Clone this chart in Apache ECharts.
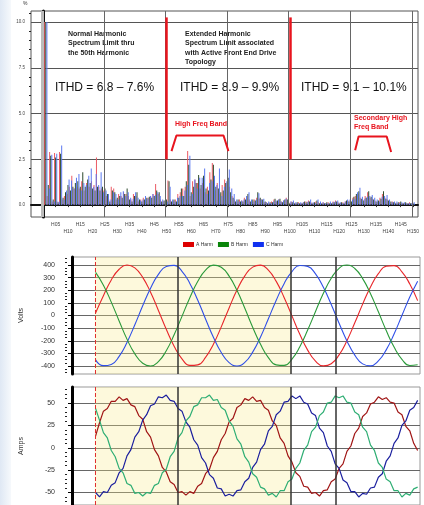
<!DOCTYPE html>
<html>
<head>
<meta charset="utf-8">
<script src="https://cdn.jsdelivr.net/npm/echarts@6/dist/echarts.min.js"></script>
<style>
  html, body { margin: 0; padding: 0; background: #fff; }
  #chart { width: 424px; height: 505px; }
</style>
</head>
<body>
<div id="chart"></div>
<script>
// harmonic spectrum, % of fundamental, index 0 = H1 (fundamental clipped at 10)
const harmA = [
  10, 0.5, 2.9, 0.2, 2.85, 0.2, 2.9, 0.3, 0.5, 0.6,
  1.0, 1.6, 0.9, 1.0, 0.9, 1.3, 0.8, 1.2, 1.0, 1.3,
  1.1, 2.6, 1.0, 0.9, 0.8, 0.5, 0.3, 1.0, 0.9, 0.3,
  0.6, 0.5, 0.7, 0.6, 0.5, 0.3, 0.6, 0.5, 0.2, 0.3,
  0.4, 0.3, 0.4, 0.5, 0.6, 1.15, 0.6, 0.3, 0.2, 0.2,
  1.35, 0.3, 0.2, 0.3, 0.6, 0.7, 0.9, 1.0, 2.95, 0.5,
  1.3, 1.4, 1.2, 0.9, 1.2, 0.7, 1.0, 1.8, 2.3, 0.8,
  1.2, 0.6, 1.1, 1.4, 1.2, 1.0, 0.5, 0.3, 0.2, 0.3,
  0.25, 0.4, 0.5, 0.3, 0.2, 0.3, 0.4, 0.35, 0.3, 0.15,
  0.15, 0.1, 0.2, 0.3, 0.2, 0.3, 0.2, 0.25, 0.4, 0.15,
  0.2, 0.15, 0.1, 0.15, 0.1, 0.15, 0.2, 0.25, 0.15, 0.1,
  0.2, 0.15, 0.1, 0.15, 0.1, 0.15, 0.1, 0.2, 0.25, 0.15,
  0.1, 0.15, 0.2, 0.25, 0.25, 0.4, 0.5, 0.6, 0.4, 0.3,
  0.5, 0.7, 0.4, 0.35, 0.25, 0.2, 0.4, 0.6, 0.4, 0.3,
  0.15, 0.2, 0.15, 0.1, 0.15, 0.1, 0.1, 0.1, 0.15, 0.1
];
const harmB = [
  10, 1.1, 2.7, 0.3, 2.6, 0.15, 2.8, 0.4, 0.7, 1.1,
  0.8, 1.0, 1.2, 1.3, 1.0, 1.8, 1.0, 1.4, 1.2, 0.9,
  0.8, 1.0, 0.8, 1.0, 0.9, 0.6, 0.2, 0.8, 0.7, 0.4,
  0.5, 0.4, 0.6, 0.9, 0.3, 0.2, 0.5, 0.7, 0.3, 0.2,
  0.3, 0.4, 0.45, 0.4, 0.5, 0.8, 0.7, 0.2, 0.25, 0.3,
  1.3, 0.2, 0.3, 0.2, 0.4, 0.9, 0.5, 1.3, 2.2, 0.7,
  1.0, 1.2, 1.65, 1.1, 1.6, 0.9, 0.8, 1.4, 2.2, 1.0,
  0.9, 0.7, 0.8, 1.2, 1.5, 0.7, 0.4, 0.2, 0.3, 0.2,
  0.2, 0.3, 0.6, 0.2, 0.3, 0.25, 0.7, 0.4, 0.3, 0.2,
  0.1, 0.15, 0.15, 0.35, 0.25, 0.35, 0.15, 0.3, 0.3, 0.1,
  0.15, 0.1, 0.15, 0.1, 0.1, 0.2, 0.15, 0.2, 0.1, 0.15,
  0.25, 0.1, 0.1, 0.1, 0.15, 0.1, 0.1, 0.15, 0.2, 0.1,
  0.15, 0.1, 0.25, 0.2, 0.2, 0.45, 0.6, 0.75, 0.35, 0.25,
  0.4, 0.75, 0.45, 0.3, 0.2, 0.25, 0.35, 0.75, 0.35, 0.25,
  0.2, 0.15, 0.1, 0.15, 0.2, 0.1, 0.15, 0.1, 0.1, 0.1
];
const harmC = [
  10, 0.9, 2.75, 0.2, 2.8, 0.2, 3.25, 0.3, 0.8, 1.4,
  1.35, 0.9, 1.5, 1.7, 0.8, 1.2, 1.1, 1.6, 2.0, 1.0,
  1.7, 1.1, 1.8, 0.7, 0.8, 0.6, 0.3, 0.7, 0.6, 0.3,
  0.7, 0.75, 0.5, 0.7, 0.4, 0.35, 0.7, 0.4, 0.25, 0.3,
  0.5, 0.35, 0.5, 0.6, 0.55, 0.7, 0.5, 0.3, 0.2, 0.2,
  1.0, 0.3, 0.2, 0.4, 0.5, 0.5, 0.8, 1.1, 2.7, 0.6,
  1.4, 0.9, 1.5, 1.5, 2.0, 0.6, 1.2, 1.3, 1.6, 1.1,
  2.0, 0.5, 1.0, 1.3, 1.95, 0.9, 0.6, 0.3, 0.2, 0.25,
  0.3, 0.5, 0.7, 0.3, 0.2, 0.3, 0.65, 0.3, 0.35, 0.15,
  0.2, 0.1, 0.2, 0.25, 0.3, 0.2, 0.25, 0.35, 0.5, 0.2,
  0.25, 0.15, 0.1, 0.15, 0.15, 0.1, 0.2, 0.3, 0.15, 0.1,
  0.3, 0.2, 0.15, 0.1, 0.1, 0.2, 0.15, 0.2, 0.25, 0.15,
  0.1, 0.2, 0.3, 0.3, 0.3, 0.35, 0.7, 0.95, 0.45, 0.35,
  0.45, 0.5, 0.55, 0.4, 0.3, 0.2, 0.45, 0.5, 0.55, 0.3,
  0.15, 0.2, 0.2, 0.1, 0.15, 0.15, 0.1, 0.1, 0.1, 0.15
];
const harmLabels = [5, 10, 15, 20, 25, 30, 35, 40, 45, 50, 55, 60, 65, 70, 75,
  80, 85, 90, 95, 100, 105, 110, 115, 120, 125, 130, 135, 140, 145, 150];
const harmGrid = [25, 50, 75, 100, 125, 150];
const pctTicks = [0, 2.5, 5, 7.5, 10];
const pctMinor = [0.5, 1, 1.5, 2, 3, 3.5, 4, 4.5, 5.5, 6, 6.5, 7, 8, 8.5, 9, 9.5, 10.5];
const bandLimits = [50, 100];
const hfBracket = [[52, 2.95], [54, 3.8], [73.1, 3.8], [75.1, 2.95]];
const shfBracket = [[126.5, 3.0], [127.9, 3.75], [139.3, 3.75], [141.1, 2.9]];

// waveforms, time in ms
const voltTime = [3, 4, 5, 6, 7, 8, 9, 10, 11, 12, 13, 14, 15, 16, 17, 18, 19, 20, 21, 22, 23,
  24, 25, 26, 27, 28, 29, 30, 31, 32, 33, 34, 35, 36, 37, 38, 39, 40, 41, 42, 43, 44];
const voltA = [20, 157, 281, 366, 400, 377, 302, 184, 40, -109, -243, -343, -395, -391, -332, -227, -90, 60, 201, 314, 383,
  399, 359, 270, 143, -3, -149, -274, -361, -399, -382, -312, -199, -58, 90, 226, 331, 390, 395, 346, 249, 118];
const voltB = [-351, -397, -387, -323, -213, -73, 77, 216, 325, 388, 397, 350, 254, 122, -27, -172, -293, -373, -400, -371, -290,
  -170, -26, 121, 252, 348, 396, 389, 329, 223, 87, -61, -201, -314, -383, -399, -360, -272, -146, 0, 146, 272];
const voltC = [341, 240, 106, -43, -187, -304, -378, -400, -365, -279, -153, -7, 141, 269, 359, 399, 382, 312, 199, 57, -93,
  -228, -333, -391, -395, -345, -247, -115, 32, 176, 295, 373, 400, 372, 292, 173, 29, -119, -250, -347, -396, -390];
const voltTicks = [-400, -300, -200, -100, 0, 100, 200, 300, 400];
const voltMinor = [-450, -425, -375, -350, -325, -275, -250, -225, -175, -150, -125, -75, -50, -25,
  25, 50, 75, 125, 150, 175, 225, 250, 275, 325, 350, 375, 425, 450];

const ampTime = [3, 3.5, 4, 4.5, 5, 5.5, 6, 6.5, 7, 7.5, 8, 8.5, 9, 9.5, 10, 10.5, 11, 11.5, 12, 12.5,
  13, 13.5, 14, 14.5, 15, 15.5, 16, 16.5, 17, 17.5, 18, 18.5, 19, 19.5, 20, 20.5, 21, 21.5, 22, 22.5,
  23, 23.5, 24, 24.5, 25, 25.5, 26, 26.5, 27, 27.5, 28, 28.5, 29, 29.5, 30, 30.5, 31, 31.5, 32, 32.5,
  33, 33.5, 34, 34.5, 35, 35.5, 36, 36.5, 37, 37.5, 38, 38.5, 39, 39.5, 40, 40.5, 41, 41.5, 42, 42.5,
  43, 43.5, 44];
const ampA = [13, 28, 41, 44, 52, 52, 57, 53, 55, 48, 46, 36, 32, 18, 12, -2, -9, -22, -27, -38,
  -41, -50, -49, -53, -49, -51, -43, -40, -29, -24, -11, -4, 9, 16, 29, 33, 45, 48, 55, 53,
  57, 52, 53, 45, 42, 30, 25, 11, 5, -9, -16, -28, -32, -43, -44, -51, -50, -54, -48, -47,
  -38, -35, -23, -18, -4, 2, 16, 22, 35, 39, 49, 51, 57, 54, 56, 51, 50, 40, 37, 24,
  19, 5, -3];
const ampB = [-50, -55, -49, -50, -42, -39, -28, -23, -9, -2, 12, 18, 31, 37, 47, 49, 57, 56, 59, 53,
  52, 44, 41, 29, 23, 9, 3, -11, -17, -30, -34, -45, -46, -54, -52, -54, -48, -47, -38, -34,
  -22, -16, -2, 4, 19, 24, 37, 41, 51, 52, 58, 55, 58, 51, 49, 39, 36, 22, 17, 2,
  -4, -18, -23, -36, -39, -49, -49, -55, -51, -52, -45, -44, -33, -29, -15, -9, 5, 11, 25, 30,
  42, 45, 53];
const ampC = [44, 31, 17, 11, -3, -10, -23, -28, -40, -42, -51, -50, -54, -50, -51, -42, -40, -28, -24, -10,
  -4, 11, 17, 30, 35, 46, 48, 56, 56, 59, 53, 54, 45, 42, 30, 24, 10, 4, -10, -16,
  -29, -33, -44, -46, -53, -51, -55, -48, -48, -38, -35, -23, -17, -3, 3, 18, 23, 36, 40, 50,
  51, 58, 56, 58, 51, 50, 40, 37, 23, 18, 3, -3, -17, -22, -35, -38, -48, -48, -55, -51,
  -53, -46, -44];
const ampTicks = [-50, -25, 0, 25, 50];
const ampMinor = [-60, -55, -45, -40, -35, -30, -20, -15, -10, -5, 5, 10, 15, 20, 30, 35, 40, 45, 55, 60, 65];

const captureStart = 2.9;   // red dashed trigger line
const shadeEnd = 27.9;      // end of the yellow capture window
const cursorTimes = [13.4, 27.9, 33.6];

const chart = echarts.init(document.getElementById("chart"));
const FONT = "Liberation Sans";
const RED = "#e8141e";

const pair = (xs, ys) => ys.map((v, i) => [xs[i], v]);
const hpts = arr => arr.map((v, i) => [i + 1, v]);

const waveMarks = {
  silent: true,
  symbol: ["none", "none"],
  label: { show: false },
  data: [
    { xAxis: captureStart, lineStyle: { color: "#e03030", type: "dashed", width: 1 } },
    ...cursorTimes.map(t => ({ xAxis: t, lineStyle: { color: "#333", type: "solid", width: 1.5 } }))
  ]
};
const waveShade = {
  silent: true,
  itemStyle: { color: "rgba(250, 236, 140, 0.3)" },
  data: [[{ xAxis: captureStart }, { xAxis: shadeEnd }]]
};

const minorAxis = (grid, min, max, vals, offset) => ({
  gridIndex: grid, type: "value", position: "left", min: min, max: max, offset: offset,
  axisLine: { show: false },
  axisTick: { show: true, customValues: vals, length: 2, lineStyle: { color: "#222" } },
  axisLabel: { show: false },
  splitLine: { show: false }
});

const option = {
  animation: false,
  textStyle: { fontFamily: FONT },
  graphic: [
    {
      type: "rect", left: 0, top: 0, z: -10, silent: true,
      shape: { width: 11, height: 505 },
      style: {
        fill: new echarts.graphic.LinearGradient(0, 0, 1, 0, [
          { offset: 0, color: "#dfe8f4" }, { offset: 1, color: "#f6f9fc" }
        ])
      }
    },
    { type: "text", left: 23, top: 1, style: { text: "%", fontSize: 5, fill: "#333", fontFamily: FONT } },
    {
      type: "text", left: 68, top: 29,
      style: {
        text: "Normal Harmonic\nSpectrum Limit thru\nthe 50th Harmonic",
        font: "bold 7px " + FONT, lineHeight: 9.5, fill: "#222"
      }
    },
    {
      type: "text", left: 185, top: 29,
      style: {
        text: "Extended Harmonic\nSpectrum Limit associated\nwith Active Front End Drive\nTopology",
        font: "bold 7px " + FONT, lineHeight: 9.5, fill: "#222"
      }
    },
    { type: "text", left: 55, top: 82, style: { text: "ITHD = 6.8 – 7.6%", font: "12px " + FONT, fill: "#111" } },
    { type: "text", left: 180, top: 82, style: { text: "ITHD = 8.9 – 9.9%", font: "12px " + FONT, fill: "#111" } },
    { type: "text", left: 301, top: 82, style: { text: "ITHD = 9.1 – 10.1%", font: "12px " + FONT, fill: "#111" } },
    { type: "text", left: 175, top: 121, style: { text: "High Freq Band", font: "bold 7px " + FONT, fill: RED } },
    {
      type: "text", left: 354, top: 114,
      style: { text: "Secondary High\nFreq Band", font: "bold 7px " + FONT, lineHeight: 9, fill: RED }
    }
  ],
  grid: [
    { left: 31, top: 11, width: 387, height: 206, show: true, borderColor: "#555", borderWidth: 1 },
    { left: 72, top: 257, width: 348, height: 117, show: true, borderColor: "#999", borderWidth: 1 },
    { left: 72, top: 387, width: 348, height: 118, show: true, borderColor: "#999", borderWidth: 1 }
  ],
  legend: {
    data: [
      { name: "A Harm", itemStyle: { color: "#dd0000" } },
      { name: "B Harm", itemStyle: { color: "#0a850a" } },
      { name: "C Harm", itemStyle: { color: "#1030f0" } }
    ],
    selectedMode: false,
    left: 178, top: 237,
    icon: "rect", itemWidth: 11, itemHeight: 5, itemGap: 5,
    textStyle: { fontSize: 5, color: "#333", fontFamily: FONT, padding: [0, 0, 0, -3] }
  },
  xAxis: [
    {
      gridIndex: 0, type: "value", min: -5, max: 152,
      axisLine: { lineStyle: { color: "#111", width: 2 } },
      axisTick: { customValues: [0].concat(harmLabels), length: 2, lineStyle: { color: "#333" } },
      axisLabel: {
        customValues: harmLabels, fontSize: 5, color: "#444", margin: 4, lineHeight: 7,
        formatter: v => {
          const s = "H" + (v < 10 ? "0" + v : v);
          return v % 10 === 0 ? "\n" + s : s;
        }
      },
      splitLine: { show: false }
    },
    { gridIndex: 1, type: "value", min: 0, max: 44.3, show: false },
    { gridIndex: 2, type: "value", min: 0, max: 44.3, show: false }
  ],
  yAxis: [
    {
      gridIndex: 0, type: "value", position: "left", min: -0.65, max: 10.6,
      axisLine: { show: true, lineStyle: { color: "#111", width: 3 } },
      axisTick: { customValues: pctTicks, length: 3, lineStyle: { color: "#222" } },
      axisLabel: { customValues: pctTicks, fontSize: 4.5, color: "#444", margin: 6, formatter: v => v.toFixed(1) },
      splitLine: { lineStyle: { color: "#555", width: 1 } }
    },
    minorAxis(0, -0.65, 10.6, pctMinor, 0),
    {
      gridIndex: 1, type: "value", position: "left", min: -463, max: 463, offset: 5,
      name: "Volts", nameLocation: "middle", nameGap: 42,
      nameTextStyle: { fontSize: 7, color: "#333", fontFamily: FONT },
      axisLine: { show: true, lineStyle: { color: "#000", width: 3 } },
      axisTick: { customValues: voltTicks, length: 4, lineStyle: { color: "#000" } },
      axisLabel: { customValues: voltTicks, fontSize: 7, color: "#333", margin: 12 },
      splitLine: { lineStyle: { color: "#666", width: 1 } }
    },
    minorAxis(1, -463, 463, voltMinor, 5),
    {
      gridIndex: 2, type: "value", position: "left", min: -64, max: 68, offset: 5,
      name: "Amps", nameLocation: "middle", nameGap: 42,
      nameTextStyle: { fontSize: 7, color: "#333", fontFamily: FONT },
      axisLine: { show: true, lineStyle: { color: "#000", width: 3 } },
      axisTick: { customValues: ampTicks, length: 4, lineStyle: { color: "#000" } },
      axisLabel: { customValues: ampTicks, fontSize: 7, color: "#333", margin: 12 },
      splitLine: { lineStyle: { color: "#666", width: 1 } }
    },
    minorAxis(2, -64, 68, ampMinor, 5)
  ],
  series: [
    {
      name: "A Harm", type: "bar", xAxisIndex: 0, yAxisIndex: 0,
      data: hpts(harmA), barWidth: 0.7, barGap: "10%", itemStyle: { color: "#ea5a64" },
      markLine: {
        silent: true, symbol: ["none", "none"], label: { show: false },
        lineStyle: { color: "#666", type: "solid", width: 1 },
        data: [{ xAxis: 0, lineStyle: { color: "#bbb", width: 3 } }].concat(harmGrid.map(h => ({ xAxis: h })))
      }
    },
    {
      name: "B Harm", type: "bar", xAxisIndex: 0, yAxisIndex: 0,
      data: hpts(harmB), barWidth: 0.7, barGap: "10%", itemStyle: { color: "#2d4a2d" },
      markLine: {
        silent: true, symbol: ["none", "none"], label: { show: false },
        lineStyle: { color: RED, type: "solid", width: 2.5 },
        data: bandLimits.map(h => [{ coord: [h, 10.25] }, { coord: [h, 2.5] }])
      }
    },
    {
      name: "C Harm", type: "bar", xAxisIndex: 0, yAxisIndex: 0,
      data: hpts(harmC), barWidth: 0.7, barGap: "10%", itemStyle: { color: "#5a78f0" }
    },
    {
      name: "hf-bracket", type: "line", xAxisIndex: 0, yAxisIndex: 0, data: hfBracket,
      symbol: "none", silent: true, lineStyle: { color: RED, width: 2 }, z: 5
    },
    {
      name: "shf-bracket", type: "line", xAxisIndex: 0, yAxisIndex: 0, data: shfBracket,
      symbol: "none", silent: true, lineStyle: { color: RED, width: 2 }, z: 5
    },
    {
      name: "Va", type: "line", xAxisIndex: 1, yAxisIndex: 2, data: pair(voltTime, voltA),
      smooth: true, symbol: "none", lineStyle: { color: "#e8262a", width: 1.1 },
      markArea: waveShade, markLine: waveMarks
    },
    {
      name: "Vb", type: "line", xAxisIndex: 1, yAxisIndex: 2, data: pair(voltTime, voltB),
      smooth: true, symbol: "none", lineStyle: { color: "#2f4fe8", width: 1.1 }
    },
    {
      name: "Vc", type: "line", xAxisIndex: 1, yAxisIndex: 2, data: pair(voltTime, voltC),
      smooth: true, symbol: "none", lineStyle: { color: "#2a9a3a", width: 1.1 }
    },
    {
      name: "Ia", type: "line", xAxisIndex: 2, yAxisIndex: 4, data: pair(ampTime, ampA),
      symbol: "none", lineStyle: { color: "#a01515", width: 1.2 },
      markArea: waveShade, markLine: waveMarks
    },
    {
      name: "Ib", type: "line", xAxisIndex: 2, yAxisIndex: 4, data: pair(ampTime, ampB),
      symbol: "none", lineStyle: { color: "#1b1f9e", width: 1.2 }
    },
    {
      name: "Ic", type: "line", xAxisIndex: 2, yAxisIndex: 4, data: pair(ampTime, ampC),
      symbol: "none", lineStyle: { color: "#2fae74", width: 1.2 }
    }
  ]
};

chart.setOption(option);
</script>
</body>
</html>
